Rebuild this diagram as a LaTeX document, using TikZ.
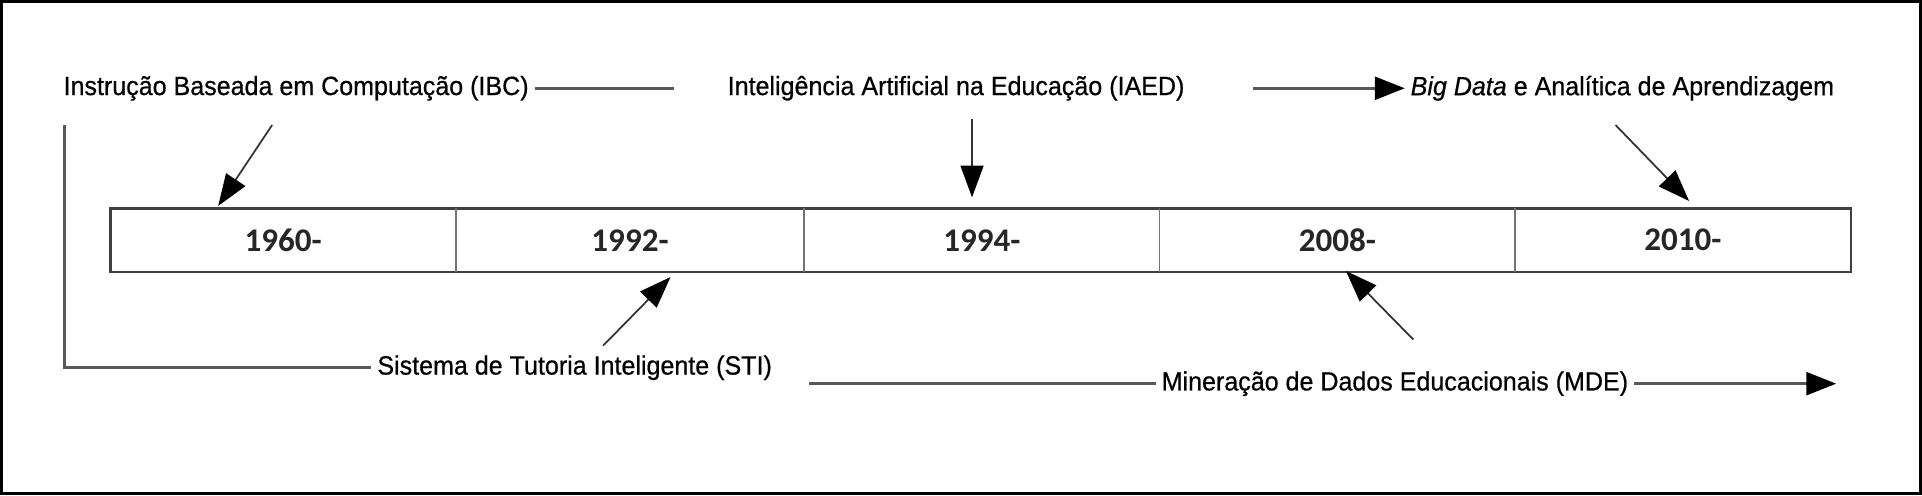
\documentclass[tikz,border=0pt]{standalone}
\usepackage{fontspec}
\setmainfont{Liberation Sans}[FakeStretch=0.95,FakeBold=0.6]
\newfontfamily\yearfont{Carlito}
\usetikzlibrary{arrows.meta,positioning}

\begin{document}
\begin{tikzpicture}[x=0.012258cm,y=0.012258cm,
        lbl/.style={font=\fontsize{7.5}{8}\selectfont, inner sep=1.5pt},
        yr/.style={font=\yearfont\bfseries\fontsize{9.4}{10}\selectfont, text=black!85},
        hline/.style={draw=black!65, line width=0.85pt},
        ptr/.style={draw=black!80, line width=0.5pt, -{Triangle[length=9pt,width=6.5pt,color=black]}},
        hptr/.style={hline, -{Triangle[length=8.5pt,width=6.5pt,color=black]}}]
        \useasboundingbox (0,0) rectangle (1568,404);
        \draw[line width=0.8pt] (1.2,1.2) rectangle (1566.8,402.8);
        % linha do tempo
        \draw[draw=black!75, line width=0.75pt] (90,182) rectangle (1510,234);
        \foreach \x in {372,656,946,1236}
        \draw[draw=black!55, line width=0.4pt] (\x,182) -- (\x,234);
        \foreach \x/\ano in {231/1960,514/1992,801/1994,1091/2008,1373/2010}
        \node[yr] (a\ano) at (\x,208) {\ano-};
        % rotulos de cima
        \node[lbl, anchor=west] (ibc) at (47,332) {Instrução Baseada em Computação (IBC)};
        \node[lbl] (iaed) at (780,332) {Inteligência Artificial na Educação (IAED)};
        \node[lbl, anchor=west] (bd) at (1146,332) {\textit{Big Data} e Analítica de Aprendizagem};
        \coordinate (ibcfim) at (550,332);
        \coordinate (bdini) at (1022,332);
        \draw[hline] (ibc.east) -- (ibcfim);
        \draw[hptr] (bdini) -- (bd.west);
        % rotulos de baixo
        \node[lbl, anchor=west] (sti) at (303,104) {Sistema de Tutoria Inteligente (STI)};
        \node[lbl] (mde) at (1138,91) {Mineração de Dados Educacionais (MDE)};
        \coordinate (stitopo) at (53,302);
        \coordinate (mdeini) at (660,91);
        \coordinate (mdefim) at (1498,91);
        \draw[hline] (stitopo) |- (sti.west);
        \draw[hline] (mdeini) -- (mde.west);
        \draw[hptr] (mde.east) -- (mdefim);
        % setas para a linha do tempo
        \coordinate (p1) at (222,302); \coordinate (q1) at (178,236);
        \coordinate (p2) at (793,307); \coordinate (q2) at (793,243);
        \coordinate (p3) at (1318,302); \coordinate (q3) at (1378,240);
        \coordinate (p4) at (492,122); \coordinate (q4) at (547,178);
        \coordinate (p5) at (1153,127); \coordinate (q5) at (1098,183);
        \foreach \i in {1,...,5}
        \draw[ptr] (p\i) -- (q\i);
\end{tikzpicture}
\end{document}
